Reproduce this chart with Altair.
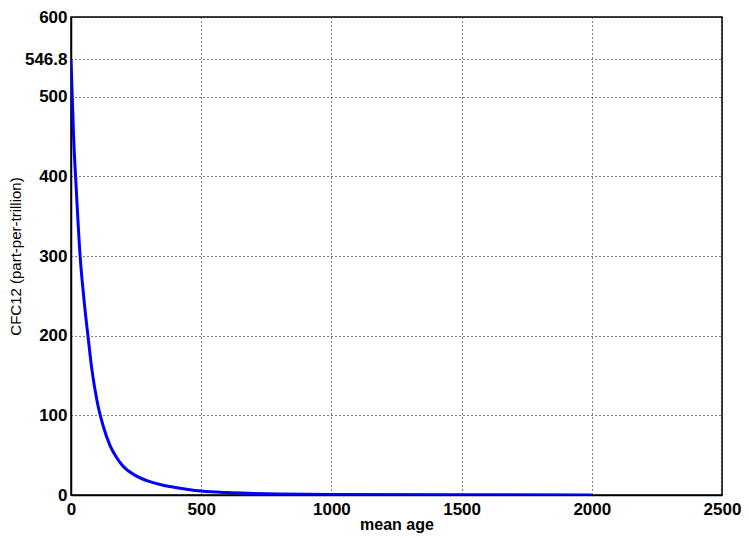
import altair as alt
import pandas as pd

mean_age = [0, 10, 20, 35, 50, 65, 80, 100, 125, 150, 175, 200, 250, 300, 350,
            400, 450, 500, 600, 700, 800, 1000, 1500, 2000]
cfc12 = [546.8, 450, 385, 300, 245, 200, 158, 118, 85, 62, 47, 36, 24, 17, 12.5,
         9.5, 7, 5, 3, 2, 1.3, 0.6, 0.2, 0.1]

x_ticks = [0, 500, 1000, 1500, 2000, 2500]
y_ticks = [0, 100, 200, 300, 400, 500, 546.8, 600]

df = pd.DataFrame({"mean age": mean_age, "cfc": cfc12})

FONT = "Liberation Sans"

chart = alt.Chart(df).mark_line(color="#0000FF", strokeWidth=3, clip=True,
                                interpolate="monotone").encode(
    x=alt.X("mean age:Q",
            scale=alt.Scale(domain=[0, 2500], nice=False, zero=False),
            axis=alt.Axis(values=x_ticks, title="mean age",
                          labelExpr="format(datum.value, 'd')",
                          labelFlush=False,
                          titleFont=FONT, titleFontSize=16, titleFontWeight="bold",
                          titlePadding=-1, labelFont=FONT, labelFontSize=17,
                          labelFontWeight="bold", labelPadding=6)),
    y=alt.Y("cfc:Q",
            scale=alt.Scale(domain=[0, 600], nice=False, zero=False),
            axis=alt.Axis(values=y_ticks,
                          labelExpr="datum.value == 546.8 ? '546.8' : format(datum.value, 'd')",
                          labelFlush=False,
                          title="CFC12 (part-per-trillion)",
                          titleFont=FONT, titleFontSize=15, titleFontWeight="normal",
                          titlePadding=1, labelFont=FONT, labelFontSize=17,
                          labelFontWeight="bold", labelPadding=4)),
).properties(
    width=651,
    height=478,
    background="white",
    autosize=alt.AutoSizeParams(type="none"),
    padding={"left": 63, "top": 9, "right": 19, "bottom": 42},
).configure_axis(
    grid=True,
    gridColor="black",
    gridOpacity=1,
    gridWidth=1,
    gridDash=[1, 3],
    ticks=False,
    domain=True,
    domainColor="black",
    domainWidth=1.5,
    labelColor="black",
    titleColor="black",
).configure_view(
    stroke="black",
    strokeWidth=1.5,
)

chart.save("out.html", embed_options={"renderer": "svg", "actions": False})
